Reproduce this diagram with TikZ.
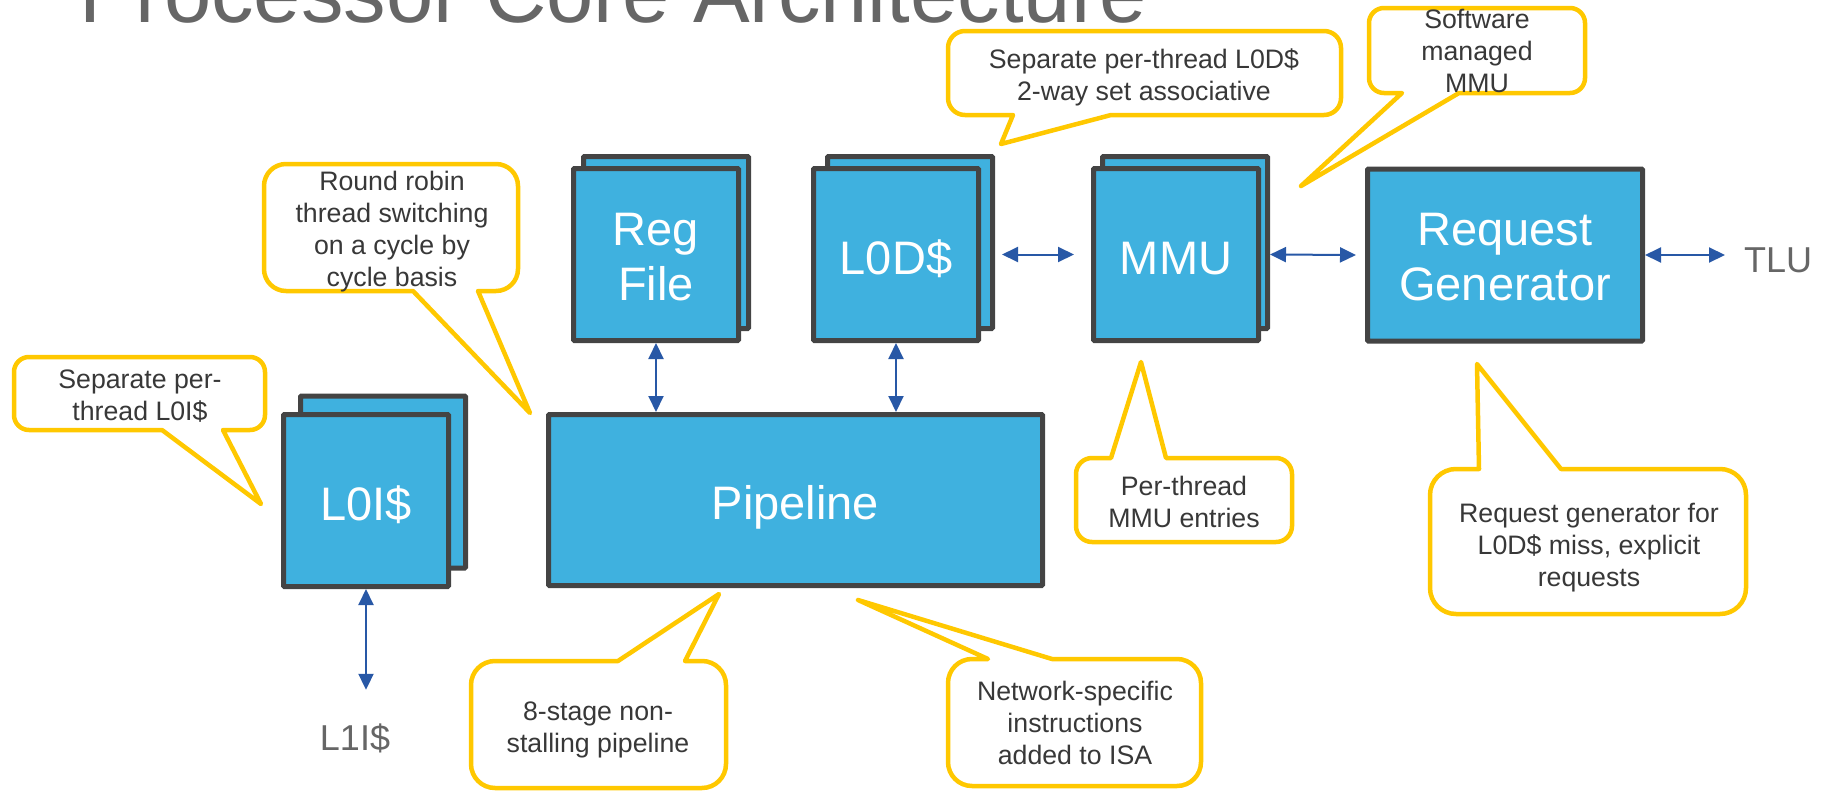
\documentclass[tikz,border=0pt]{standalone}
\usepackage{fontspec}
\setmainfont{Liberation Sans}
\usetikzlibrary{arrows.meta}

\definecolor{boxblue}{RGB}{63,177,223}
\definecolor{boxedge}{RGB}{68,68,68}
\definecolor{linkblue}{RGB}{40,88,166}
\definecolor{noteyellow}{RGB}{255,200,0}
\definecolor{notetext}{RGB}{56,56,56}
\definecolor{titlegray}{RGB}{102,102,102}

% centred lines whose reference point is the first baseline
\newcommand\stackedlines[1]{\vtop{\halign{\hfil##\hfil\cr#1\crcr}}}

% speech bubble, pointer leaving the bottom edge
% args: x1 y1 x2 y2 radius baseL baseR tipx tipy
\newcommand\calloutbelow[9]{%
  \draw[note] (#6,#4) -- (#8,#9) -- (#7,#4) -- ({#3-#5},#4)
    arc[start angle=90,end angle=0,radius=#5] -- (#3,{#2+#5})
    arc[start angle=0,end angle=-90,radius=#5] -- ({#1+#5},#2)
    arc[start angle=-90,end angle=-180,radius=#5] -- (#1,{#4-#5})
    arc[start angle=180,end angle=90,radius=#5] -- cycle;}

% speech bubble, pointer leaving the top edge
\newcommand\calloutabove[9]{%
  \draw[note] (#6,#2) -- (#8,#9) -- (#7,#2) -- ({#3-#5},#2)
    arc[start angle=-90,end angle=0,radius=#5] -- (#3,{#4-#5})
    arc[start angle=0,end angle=90,radius=#5] -- ({#1+#5},#4)
    arc[start angle=90,end angle=180,radius=#5] -- (#1,{#2+#5})
    arc[start angle=180,end angle=270,radius=#5] -- cycle;}

\tikzset{
  unit/.style={draw=boxedge, line width=5pt, fill=boxblue, inner sep=0pt,
    minimum width=165pt, minimum height=172pt, text=white,
    font=\fontsize{47}{55}\selectfont, text height=39pt, text depth=0pt,
    rounded corners=1pt},
  twoline/.style={text depth=58pt},
  note/.style={draw=noteyellow, line width=4.5pt, fill=white, line join=round},
  notelabel/.style={text=notetext, font=\fontsize{26.7}{32}\selectfont,
    anchor=base, inner sep=0pt},
  biarrow/.style={draw=linkblue, line width=2pt,
    {Triangle[length=16pt,width=15pt]}-{Triangle[length=16pt,width=15pt]}},
  extlabel/.style={text=titlegray, font=\fontsize{36}{43}\selectfont, inner sep=0pt},
}

\begin{document}
\begin{tikzpicture}[x=1pt,y=-1pt]
\useasboundingbox (0,0) rectangle (1832,795);
\clip (0,0) rectangle (1832,795);

% heading
\node[anchor=base west, inner sep=0pt, text=titlegray,
  font=\fontsize{85}{100}\selectfont] (title) at (79,23) {Processor Core Architecture};

% per-thread copies behind the replicated units
\node[unit] (l0iback) at (383,482) {};
\node[unit] (regback) at (666,242.5) {};
\node[unit] (l0dback) at (910,242.5) {};
\node[unit] (mmuback) at (1185,242.5) {};

% core units
\node[unit] (l0i) at (366,500.5) {L0I\$};
\node[unit, twoline] (regfile) at (656,254.5) {\stackedlines{Reg\cr File}};
\node[unit] (l0d) at (896,254.5) {L0D\$};
\node[unit] (mmu) at (1176,254.5) {MMU};
\node[unit, twoline, minimum width=275pt] (rg) at (1505,255) {\stackedlines{Request\cr Generator}};
\node[unit, minimum width=494pt, minimum height=171pt] (pipe) at (795.5,500) {Pipeline};

% external endpoints
\node[extlabel, anchor=base, text height=28pt] (l1i) at (355,750) {L1I\$};
\node[extlabel, anchor=base west] (tlu) at (1744,272) {TLU};

% links
\draw[biarrow] (regfile.south) -- (regfile.south |- pipe.north);
\draw[biarrow] (l0d.south) -- (l0d.south |- pipe.north);
\draw[biarrow] (l0i.south) -- ([yshift=32pt]l0i.south |- l1i.north);
\draw[biarrow] ([xshift=7pt]l0dback.east |- l0d.center) -- ([xshift=-17pt]mmu.west);
\draw[biarrow] (mmuback.east |- mmu.center) -- ([xshift=-9pt]rg.west);
\draw[biarrow] (rg.east) -- ([xshift=-19pt]tlu.west |- rg.east);

% annotations
\calloutbelow{14}{357}{265}{430}{15}{162}{223}{261}{504}
\node[notelabel] (noteL0I) at (140,388) {\stackedlines{Separate per-\cr thread L0I\$}};

\calloutbelow{264}{164}{518}{291}{22}{413}{478}{530}{413}
\node[notelabel] (noteRR) at (392,190) {\stackedlines{Round robin\cr thread switching\cr on a cycle by\cr cycle basis}};

\calloutbelow{948}{31}{1341}{115}{17}{1013}{1111}{1001}{144}
\node[notelabel] (noteL0D) at (1144,68) {\stackedlines{Separate per-thread L0D\$\cr 2-way set associative}};

\calloutbelow{1369}{8}{1585}{93}{15}{1402}{1459}{1301}{186}
\node[notelabel] (noteSW) at (1477,28) {\stackedlines{Software\cr managed\cr MMU}};

\calloutabove{471}{661}{726}{788}{24}{618}{685}{719}{594}
\node[notelabel] (notePipe) at (598,720) {\stackedlines{8-stage non-\cr stalling pipeline}};

\calloutabove{948}{659}{1201}{786}{24}{988}{1052}{858}{600}
\node[notelabel] (noteISA) at (1075,700) {\stackedlines{Network-specific\cr instructions\cr added to ISA}};

\calloutabove{1076}{458}{1292}{542}{16}{1111}{1166}{1141}{362}
\node[notelabel] (noteMMU) at (1184,495) {\stackedlines{Per-thread\cr MMU entries}};

\calloutabove{1430}{469}{1746}{614}{26}{1479}{1561}{1477}{364}
\node[notelabel] (noteRG) at (1589,522) {\stackedlines{Request generator for\cr L0D\$ miss, explicit\cr requests}};
\end{tikzpicture}
\end{document}
